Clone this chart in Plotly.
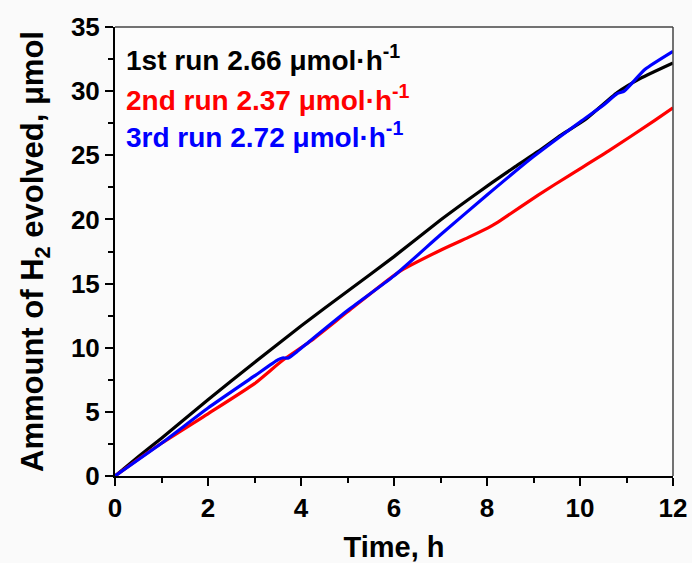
import plotly.graph_objects as go

# ---- data ----
t1 = [0, 0.5, 1, 2, 3, 4, 5, 6, 7, 7.6, 8.1, 8.6, 9.1, 9.6, 10.1, 10.8, 11.3, 12]
y1 = [0, 1.5, 2.95, 5.95, 8.85, 11.7, 14.4, 17.1, 19.95, 21.55, 22.85, 24.1, 25.3, 26.6, 27.75, 29.9, 31.0, 32.2]

t2 = [0, 0.5, 1, 2, 3, 3.6, 4.2, 5, 6.1, 7, 7.6, 8.1, 8.3, 9.1, 9.8, 10.6, 11.6, 12]
y2 = [0, 1.3, 2.55, 4.85, 7.2, 9.0, 10.5, 12.8, 15.9, 17.6, 18.6, 19.5, 19.95, 21.9, 23.5, 25.3, 27.7, 28.7]

t3 = [0, 1, 2, 3, 3.5, 3.6, 3.73, 3.9, 4.2, 5, 6, 7, 8, 9, 10, 10.5, 10.8, 10.95, 11.4, 12]
y3 = [0, 2.55, 5.3, 7.8, 9.05, 9.2, 9.2, 9.65, 10.55, 12.9, 15.6, 18.8, 21.9, 24.9, 27.6, 28.9, 29.8, 30.0, 31.7, 33.1]

labels = ["1st run 2.66 μmol·h<sup>-1</sup>",
          "2nd run 2.37 μmol·h<sup>-1</sup>",
          "3rd run 2.72 μmol·h<sup>-1</sup>"]
label_y = [32.6, 29.5, 26.6]
colors = ["#000000", "#ff0000", "#0000ff"]

x_ticks = [0, 2, 4, 6, 8, 10, 12]
y_ticks = [0, 5, 10, 15, 20, 25, 30, 35]

FONT = "Liberation Sans, Arial, sans-serif"

fig = go.Figure()
for t, y, c in [(t1, y1, colors[0]), (t2, y2, colors[1]), (t3, y3, colors[2])]:
    fig.add_trace(go.Scatter(x=t, y=y, mode="lines",
                             line=dict(color=c, width=3.2, shape="spline", smoothing=0.5),
                             showlegend=False, hoverinfo="skip"))

for lab, ly, c in zip(labels, label_y, colors):
    fig.add_annotation(x=0.2, y=ly, xref="x", yref="y", text=lab, showarrow=False,
                       xanchor="left", yanchor="middle",
                       font=dict(family=FONT, size=28, color=c, weight="bold"))

axis_common = dict(showgrid=False, zeroline=False, showline=True, linecolor="black",
                   linewidth=2, ticks="outside", ticklen=8, tickwidth=2, tickcolor="black",
                   mirror=False, automargin=False,
                   tickfont=dict(family=FONT, size=26, color="black", weight="bold"))

fig.update_xaxes(range=[0, 12], tickvals=x_ticks, ticktext=[str(v) for v in x_ticks],
                 minor=dict(ticks="outside", ticklen=5, tickwidth=2, tickcolor="black", dtick=1, tick0=0),
                 title=dict(text="Time, h", standoff=20,
                            font=dict(family=FONT, size=29, color="black", weight="bold")),
                 **axis_common)
fig.update_yaxes(range=[0, 35], tickvals=y_ticks, ticktext=[str(v) for v in y_ticks],
                 minor=dict(ticks="outside", ticklen=5, tickwidth=2, tickcolor="black", dtick=2.5, tick0=0),
                 title=dict(text="Ammount of H<sub>2</sub> evolved, μmol", standoff=18,
                            font=dict(family=FONT, size=31, color="black", weight="bold")),
                 **axis_common)

# frame (top and right border)
fig.add_shape(type="line", xref="paper", yref="paper", x0=0, x1=1, y0=1, y1=1,
              line=dict(color="#444444", width=1.5))
fig.add_shape(type="line", xref="paper", yref="paper", x0=1, x1=1, y0=0, y1=1,
              line=dict(color="#444444", width=1.5))

fig.update_layout(width=692, height=563,
                  margin=dict(l=115, r=19, t=27, b=87),
                  paper_bgcolor="#fafafa", plot_bgcolor="#fcfcfc")

fig.write_html("out.html")
